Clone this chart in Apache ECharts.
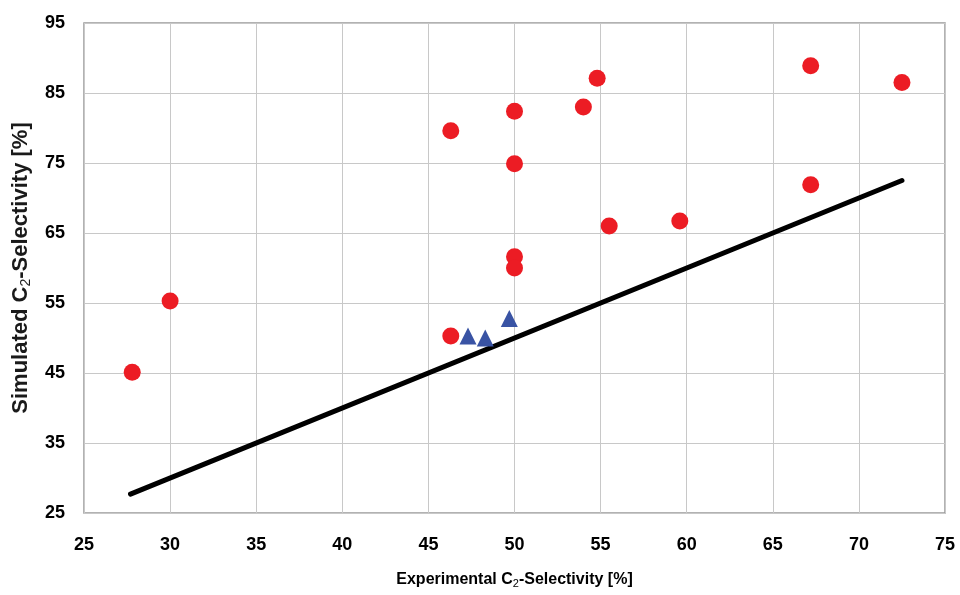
<!DOCTYPE html>
<html>
<head>
<meta charset="utf-8">
<script src="https://cdn.jsdelivr.net/npm/echarts@6/dist/echarts.min.js"></script>
<style>
  html, body { margin: 0; padding: 0; background: #fff; }
  #chart { width: 960px; height: 595px; }
</style>
</head>
<body>
<div id="chart"></div>
<script>
// red circles: experimental vs simulated
var redX = [27.8, 30.0, 46.3, 46.3, 50.0, 50.0, 50.0, 50.0, 54.0, 54.8, 55.5, 59.6, 67.2, 67.2, 72.5];
var redY = [45.1, 55.3, 79.6, 50.3, 82.4, 74.9, 61.6, 60.0, 83.0, 87.1, 66.0, 66.7, 88.9, 71.9, 86.5];
// blue triangles
var blueX = [47.3, 48.3, 49.7];
var blueY = [50.3, 50.0, 52.8];
// parity line
var lineX = [27.7, 72.5];
var lineY = [27.7, 72.5];

function pairs(xs, ys) {
  return xs.map(function (x, i) { return [x, ys[i]]; });
}

var fam = 'Liberation Sans, Arial, sans-serif';
var labelFont = { color: '#000', fontWeight: 'bold', fontSize: 18, fontFamily: fam };

var chart = echarts.init(document.getElementById('chart'));
chart.setOption({
  animation: false,
  backgroundColor: '#fff',
  grid: { left: 84, right: 15, top: 23, bottom: 82, show: true, borderColor: '#999', borderWidth: 1.5 },
  xAxis: {
    type: 'value', min: 25, max: 75, interval: 5,
    name: 'Experimental C{sub|2}-Selectivity [%]',
    nameLocation: 'middle', nameGap: 57,
    nameTextStyle: {
      color: '#000', fontWeight: 'bold', fontSize: 16, fontFamily: fam,
      rich: { sub: { fontSize: 11, fontWeight: 'normal', verticalAlign: 'bottom', padding: [8, 0, 0, 0], color: '#000', fontFamily: fam } }
    },
    axisLine: { show: false }, axisTick: { show: false },
    axisLabel: Object.assign({ margin: 23 }, labelFont),
    splitLine: { lineStyle: { color: '#c8c8c8', width: 1 } }
  },
  yAxis: {
    type: 'value', min: 25, max: 95, interval: 10,
    name: 'Simulated C{sub|2}-Selectivity [%]',
    nameLocation: 'middle', nameGap: 51,
    nameTextStyle: {
      color: '#1a1a1a', fontWeight: 'bold', fontSize: 22, fontFamily: fam,
      rich: { sub: { fontSize: 14, fontWeight: 'normal', verticalAlign: 'bottom', padding: [10, 0, 0, 0], color: '#1a1a1a', fontFamily: fam } }
    },
    axisLine: { show: false }, axisTick: { show: false },
    axisLabel: Object.assign({ margin: 19 }, labelFont),
    splitLine: { lineStyle: { color: '#c8c8c8', width: 1 } }
  },
  series: [
    {
      type: 'line', data: pairs(lineX, lineY), symbol: 'none',
      lineStyle: { color: '#000', width: 5, cap: 'round' }, z: 2
    },
    {
      type: 'scatter', data: pairs(redX, redY), symbol: 'circle', symbolSize: 17,
      itemStyle: { color: '#ec1c24', opacity: 1 }, z: 3
    },
    {
      type: 'scatter', data: pairs(blueX, blueY), symbol: 'triangle', symbolSize: 17,
      itemStyle: { color: '#3953a4', opacity: 1 }, z: 3
    }
  ]
});
</script>
</body>
</html>
